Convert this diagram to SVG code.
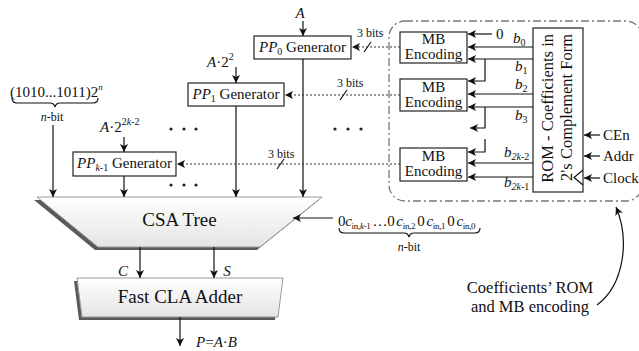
<svg xmlns="http://www.w3.org/2000/svg" width="639" height="351" viewBox="0 0 639 351">
<style>
text{font-family:"Liberation Serif","Times New Roman",serif;fill:#111}
.t15{font-size:15px}
.t14{font-size:14px}
.t12{font-size:12px}
.it{font-style:italic}
.box{fill:#fff;stroke:#222;stroke-width:1.2}
.ln{fill:none;stroke:#111;stroke-width:1.2}
.arr{fill:none;stroke:#111;stroke-width:1.2;marker-end:url(#ah)}
.dot{fill:none;stroke:#333;stroke-width:1.2;stroke-dasharray:2,2;marker-end:url(#ah)}
.sh{fill:#5a5a5a}
.grad{fill:url(#g);stroke:#999;stroke-width:1}
</style>
<defs>
<marker id="ah" viewBox="0 0 10 10" refX="10" refY="5" markerWidth="8" markerHeight="8" markerUnits="userSpaceOnUse" orient="auto"><path d="M0,0 L10,5 L0,10 L2.5,5 z" fill="#111"/></marker>
<linearGradient id="g" x1="0" y1="0" x2="0" y2="1"><stop offset="0" stop-color="#ffffff"/><stop offset="1" stop-color="#e4e4e4"/></linearGradient>
</defs>

<!-- boundary of ROM and MB encoding -->
<g id="boundary">
<rect x="389" y="21" width="253" height="180" rx="16" fill="none" stroke="#777" stroke-width="1.3" stroke-dasharray="8,3,2,3"/>
</g>

<g id="pp0">
<rect class="box" x="254" y="36" width="97" height="23"/>
<text class="t15" x="302.5" y="52" text-anchor="middle"><tspan class="it">PP</tspan><tspan font-size="10" dy="3">0</tspan><tspan dy="-3"> Generator</tspan></text>
</g>
<g id="pp1">
<rect class="box" x="188" y="83" width="96" height="23"/>
<text class="t15" x="236" y="99" text-anchor="middle"><tspan class="it">PP</tspan><tspan font-size="10" dy="3">1</tspan><tspan dy="-3"> Generator</tspan></text>
</g>
<g id="ppk1">
<rect class="box" x="73" y="152" width="103" height="24"/>
<text class="t15" x="124.5" y="168" text-anchor="middle"><tspan class="it">PP</tspan><tspan font-size="10" dy="3"><tspan class="it">k</tspan>-1</tspan><tspan dy="-3"> Generator</tspan></text>
</g>

<g id="mb0">
<rect class="box" x="400" y="32" width="67" height="31"/>
<text class="t15" x="433.5" y="44" text-anchor="middle">MB</text>
<text class="t15" x="433.5" y="58.5" text-anchor="middle">Encoding</text>
</g>
<g id="mb1">
<rect class="box" x="400" y="79" width="67" height="32"/>
<text class="t15" x="433.5" y="92" text-anchor="middle">MB</text>
<text class="t15" x="433.5" y="106.5" text-anchor="middle">Encoding</text>
</g>
<g id="mb2">
<rect class="box" x="400" y="148" width="67" height="33"/>
<text class="t15" x="433.5" y="161" text-anchor="middle">MB</text>
<text class="t15" x="433.5" y="176" text-anchor="middle">Encoding</text>
</g>

<g id="rom">
<rect class="box" x="533" y="28" width="50" height="164"/>
<path class="ln" d="M583,170 L574,177.5 L583,185"/>
<text font-size="16.5" transform="translate(553,34) rotate(-90)" text-anchor="end">ROM - Coefficients in</text>
<text font-size="16.5" transform="translate(572,34) rotate(-90)" text-anchor="end">2's Complement Form</text>
</g>

<g id="csa">
<polygon class="sh" points="34,200 319,200 257,250 95,250"/>
<polygon class="grad" points="37,197 322,197 260,247 98,247"/>
<text x="179.5" y="226" font-size="19" text-anchor="middle">CSA Tree</text>
</g>

<g id="cla">
<polygon class="sh" points="74,281 280,281 275,320 79,320"/>
<polygon class="grad" points="77,278 283,278 278,317 82,317"/>
<text x="180" y="303" font-size="19" text-anchor="middle">Fast CLA Adder</text>
</g>

<g id="connectors">
<!-- inputs to PP generators -->
<line class="arr" x1="303" y1="21" x2="303" y2="36"/>
<line class="arr" x1="236" y1="67" x2="236" y2="83"/>
<line class="arr" x1="124" y1="137" x2="124" y2="152"/>
<!-- to CSA -->
<line class="arr" x1="303" y1="59" x2="303" y2="197"/>
<line class="arr" x1="236" y1="106" x2="236" y2="197"/>
<line class="arr" x1="124" y1="176" x2="124" y2="197"/>
<line class="arr" x1="53" y1="125" x2="53" y2="197"/>
<line class="arr" x1="333" y1="218" x2="293" y2="218"/>
<!-- CSA to CLA -->
<line class="arr" x1="140" y1="247" x2="140" y2="278"/>
<line class="arr" x1="214" y1="247" x2="214" y2="278"/>
<line class="arr" x1="180" y1="317" x2="180" y2="346"/>
<!-- 3-bit dotted buses -->
<line class="dot" x1="400" y1="47" x2="352" y2="47"/>
<line class="ln" x1="364" y1="52" x2="371" y2="42"/>
<line class="dot" x1="400" y1="95" x2="285" y2="95"/>
<line class="ln" x1="340" y1="100" x2="347" y2="90"/>
<line class="dot" x1="400" y1="164" x2="177" y2="164"/>
<line class="ln" x1="277" y1="169" x2="284" y2="159"/>
<!-- ROM to MB encoders -->
<line class="arr" x1="492" y1="34" x2="468" y2="34"/>
<line class="arr" x1="533" y1="47" x2="468" y2="47"/>
<line class="arr" x1="533" y1="59" x2="468" y2="59"/>
<polyline class="arr" points="485,59 485,81 468,81"/>
<line class="arr" x1="533" y1="94" x2="468" y2="94"/>
<line class="arr" x1="533" y1="107" x2="468" y2="107"/>
<polyline class="arr" points="485,107 485,128 470,128"/>
<polyline class="arr" points="485,139 485,152 468,152"/>
<line class="arr" x1="533" y1="163" x2="468" y2="163"/>
<line class="arr" x1="533" y1="177" x2="468" y2="177"/>
<!-- ROM control inputs -->
<line class="arr" x1="600" y1="135" x2="584" y2="135"/>
<line class="arr" x1="600" y1="156" x2="584" y2="156"/>
<line class="arr" x1="600" y1="178" x2="584" y2="178"/>
<!-- callout -->
<path class="arr" d="M597,305 C624,285 630,240 616,207"/>
</g>

<g id="labels">
<text class="t15 it" x="300" y="18" text-anchor="middle">A</text>
<text class="t15" x="207" y="67"><tspan class="it">A</tspan>·2<tspan font-size="10" dy="-7">2</tspan></text>
<text class="t15" x="100" y="132"><tspan class="it">A</tspan>·2<tspan font-size="10" dy="-7">2<tspan class="it">k</tspan>-2</tspan></text>
<text class="t15" x="10" y="97">(1010...1011)2<tspan font-size="9" dy="-7" class="it">n</tspan></text>
<path class="ln" d="M12,98 Q12,103 17,103 L50,103 Q54,103 55,107 Q56,103 60,103 L93,103 Q98,103 98,98" stroke-width="1"/>
<text class="t12" x="52" y="121" text-anchor="middle"><tspan class="it">n</tspan>-bit</text>

<text class="t15" x="338" y="226" letter-spacing="-0.3" word-spacing="-1.5">0<tspan class="it">c</tspan><tspan font-size="9" dy="3">in,<tspan class="it">k</tspan>-1</tspan><tspan dy="-3"> …0 </tspan><tspan class="it">c</tspan><tspan font-size="9" dy="3">in,2</tspan><tspan dy="-3"> 0 </tspan><tspan class="it">c</tspan><tspan font-size="9" dy="3">in,1</tspan><tspan dy="-3"> 0 </tspan><tspan class="it">c</tspan><tspan font-size="9" dy="3">in,0</tspan></text>
<path class="ln" d="M339,228 Q339,233 344,233 L404,233 Q408,233 409,237 Q410,233 414,233 L475,233 Q480,233 480,228" stroke-width="1"/>
<text class="t12" x="409" y="251" text-anchor="middle"><tspan class="it">n</tspan>-bit</text>

<text class="t15 it" x="123" y="276" text-anchor="middle">C</text>
<text class="t15 it" x="227" y="276" text-anchor="middle">S</text>
<text class="t15" x="196" y="347"><tspan class="it">P</tspan>=<tspan class="it">A</tspan>·<tspan class="it">B</tspan></text>

<text class="t12" x="357" y="37">3 bits</text>
<text class="t12" x="337" y="87">3 bits</text>
<text class="t12" x="268" y="158">3 bits</text>

<text class="t15" x="496" y="39">0</text>
<text class="t15 it" x="513" y="43">b<tspan font-size="10" dy="3" font-style="normal">0</tspan></text>
<text class="t15 it" x="515" y="71">b<tspan font-size="10" dy="3" font-style="normal">1</tspan></text>
<text class="t15 it" x="515" y="89">b<tspan font-size="10" dy="3" font-style="normal">2</tspan></text>
<text class="t15 it" x="515" y="120">b<tspan font-size="10" dy="3" font-style="normal">3</tspan></text>
<text class="t15 it" x="504" y="157">b<tspan font-size="10" dy="3">2<tspan class="it">k</tspan><tspan font-style="normal">-2</tspan></tspan></text>
<text class="t15 it" x="504" y="187">b<tspan font-size="10" dy="3">2<tspan class="it">k</tspan><tspan font-style="normal">-1</tspan></tspan></text>

<text class="t15" x="603" y="140">CEn</text>
<text class="t15" x="603" y="161">Addr</text>
<text class="t15" x="603" y="183">Clock</text>

<text font-size="16.5" x="530" y="293" text-anchor="middle">Coefficients’ ROM</text>
<text font-size="16.5" x="530" y="312" text-anchor="middle">and MB encoding</text>
</g>

<g id="ellipses" fill="#222">
<circle cx="171" cy="129" r="1.6"/><circle cx="184" cy="129" r="1.6"/><circle cx="196" cy="129" r="1.6"/>
<circle cx="335" cy="129" r="1.6"/><circle cx="348" cy="129" r="1.6"/><circle cx="361" cy="129" r="1.6"/>
<circle cx="171" cy="185" r="1.6"/><circle cx="184" cy="185" r="1.6"/><circle cx="196" cy="185" r="1.6"/>
</g>
</svg>
